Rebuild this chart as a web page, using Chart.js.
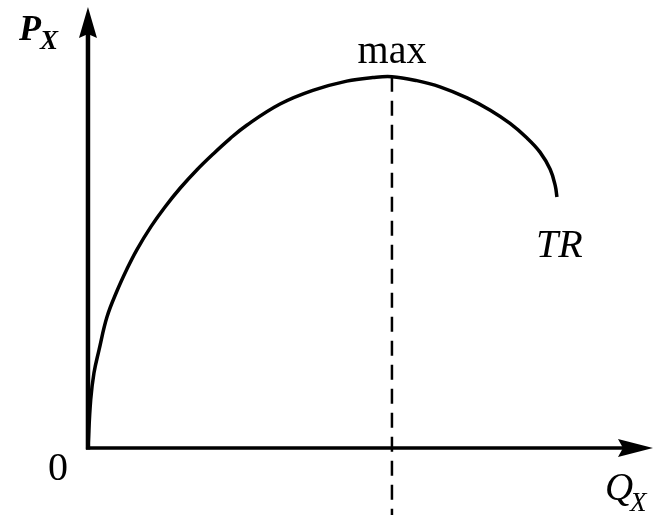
<!DOCTYPE html>
<html>
<head>
<meta charset="utf-8">
<script src="https://cdn.jsdelivr.net/npm/chart.js@4/dist/chart.umd.min.js"></script>
<style>
html,body{margin:0;padding:0;background:#fff;}
#wrap{width:654px;height:515px;position:relative;}
</style>
</head>
<body>
<div id="wrap"><canvas id="c"></canvas></div>
<script>
// Quantity (Q_X) and total revenue (TR), arbitrary units
const qValues  = [0, 0.048, 0.106, 0.195, 0.336, 0.513, 0.69, 0.867, 1.115, 1.36, 1.63, 1.93, 2.21, 2.51, 2.81, 3.40, 3.98, 4.58, 5.04, 5.38, 5.82, 6.23, 6.71, 7.12, 7.47, 7.77, 8.00, 8.18, 8.27, 8.30];
const trValues = [0, 1.09, 1.70, 2.22, 2.97, 3.56, 4.06, 4.50, 5.02, 5.46, 5.89, 6.31, 6.66, 7.01, 7.32, 7.80, 8.11, 8.32, 8.40, 8.42, 8.33, 8.19, 7.94, 7.66, 7.36, 7.03, 6.71, 6.32, 5.95, 5.69];
const maxQ = 5.38;
const maxTR = 8.42;
const axisEnd = [10, 10];          // x-axis end, y-axis end
const scaleX = [-1.557, 10.018];
const scaleY = [-1.519, 10.159];
const labels = { yAxis: ['P', 'X'], xAxis: ['Q', 'X'], origin: '0', max: 'max', curve: 'TR' };

const curveData = qValues.map((q, i) => ({ x: q, y: trValues[i] }));
const dashData = [{ x: maxQ, y: maxTR }, { x: maxQ, y: scaleY[0] }];

const axesPlugin = {
  id: 'axesPlugin',
  beforeDatasetsDraw(chart) {
    const { ctx, scales: { x, y } } = chart;
    const x0 = x.getPixelForValue(0), y0 = y.getPixelForValue(0);
    const xe = x.getPixelForValue(axisEnd[0]), ye = y.getPixelForValue(axisEnd[1]);
    ctx.save();
    ctx.fillStyle = '#fff';
    ctx.fillRect(0, 0, chart.width, chart.height);
    ctx.strokeStyle = '#000';
    ctx.fillStyle = '#000';
    ctx.lineCap = 'butt';
    // y axis
    ctx.lineWidth = 4.5;
    ctx.beginPath(); ctx.moveTo(x0, y0 + 1.5); ctx.lineTo(x0, ye + 20); ctx.stroke();
    // x axis
    ctx.lineWidth = 3.5;
    ctx.beginPath(); ctx.moveTo(x0 - 2, y0); ctx.lineTo(xe - 20, y0); ctx.stroke();
    // arrowheads
    ctx.beginPath();
    ctx.moveTo(x0, ye); ctx.lineTo(x0 - 9, ye + 31); ctx.lineTo(x0, ye + 27); ctx.lineTo(x0 + 9, ye + 31); ctx.closePath(); ctx.fill();
    ctx.beginPath();
    ctx.moveTo(xe, y0); ctx.lineTo(xe - 35, y0 - 9); ctx.lineTo(xe - 30, y0); ctx.lineTo(xe - 35, y0 + 9); ctx.closePath(); ctx.fill();
    ctx.restore();
  },
  afterDatasetsDraw(chart) {
    const { ctx, scales: { x, y } } = chart;
    const x0 = x.getPixelForValue(0), y0 = y.getPixelForValue(0);
    ctx.save();
    ctx.fillStyle = '#000';
    ctx.textBaseline = 'alphabetic';
    const serif = '"Liberation Serif", "DejaVu Serif", serif';
    // max
    ctx.textAlign = 'center';
    ctx.font = '40px ' + serif;
    ctx.fillText(labels.max, x.getPixelForValue(maxQ), y.getPixelForValue(maxTR) - 14);
    // origin 0
    ctx.fillText(labels.origin, x0 - 30, y0 + 32);
    // TR
    const endX = x.getPixelForValue(qValues[qValues.length - 1]);
    const endY = y.getPixelForValue(trValues[trValues.length - 1]);
    ctx.textAlign = 'left';
    ctx.font = 'italic 40px ' + serif;
    ctx.fillText(labels.curve, endX - 21, endY + 60);
    // P_X
    ctx.font = 'bold italic 36px ' + serif;
    ctx.fillText(labels.yAxis[0], 19, 40);
    ctx.font = 'bold italic 27px ' + serif;
    ctx.fillText(labels.yAxis[1], 40, 49);
    // Q_X
    ctx.font = 'italic 39px ' + serif;
    ctx.fillText(labels.xAxis[0], 605, 500);
    ctx.font = 'italic 27px ' + serif;
    ctx.fillText(labels.xAxis[1], 630, 511);
    ctx.restore();
  }
};

new Chart(document.getElementById('c'), {
  type: 'scatter',
  data: {
    datasets: [
      {
        data: curveData,
        showLine: true,
        borderColor: '#000',
        borderWidth: 3.5,
        pointRadius: 0,
        tension: 0.4,
        fill: false,
        clip: false
      },
      {
        data: dashData,
        showLine: true,
        borderColor: '#000',
        borderWidth: 2.5,
        borderDash: [15, 9],
        pointRadius: 0,
        fill: false,
        clip: false
      }
    ]
  },
  options: {
    responsive: true,
    maintainAspectRatio: false,
    animation: false,
    layout: { padding: 0 },
    plugins: { legend: { display: false }, tooltip: { enabled: false }, title: { display: false } },
    scales: {
      x: { type: 'linear', min: scaleX[0], max: scaleX[1], display: false },
      y: { type: 'linear', min: scaleY[0], max: scaleY[1], display: false }
    }
  },
  plugins: [axesPlugin]
});
</script>
</body>
</html>
